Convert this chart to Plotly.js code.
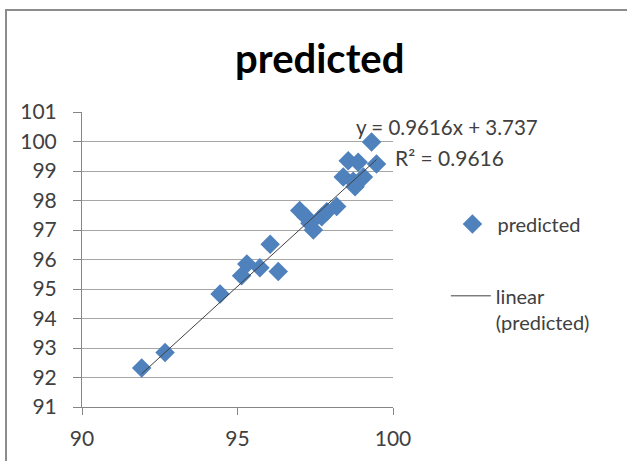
<!DOCTYPE html>
<html>
<head>
<meta charset="utf-8">
<script src="https://cdn.plot.ly/plotly-3.0.1.min.js"></script>
<style>
html,body{margin:0;padding:0;background:#fff;}
#chart{width:627px;height:461px;}
</style>
</head>
<body>
<div id="chart"></div>
<script>
// Data
const actualX = [91.92, 92.67, 94.44, 95.13, 95.30, 95.72, 96.05, 96.31, 97.00, 97.20, 97.33, 97.44, 97.71, 97.87, 98.19, 98.40, 98.56, 98.72, 98.78, 98.88, 99.05, 99.31, 99.47];
const predictedY = [92.32, 92.85, 94.83, 95.45, 95.85, 95.72, 96.52, 95.59, 97.66, 97.45, 97.23, 97.00, 97.45, 97.62, 97.80, 98.80, 99.35, 98.65, 98.47, 99.30, 98.80, 99.98, 99.24];
const trendSlope = 0.9616;
const trendIntercept = 3.737;
const trendR2 = 0.9616;
const xTicks = [90, 95, 100];
const yTicks = [91, 92, 93, 94, 95, 96, 97, 98, 99, 100, 101];

const xMin = Math.min(...actualX), xMax = Math.max(...actualX);
const trendX = [xMin, xMax];
const trendY = trendX.map(v => trendSlope * v + trendIntercept);

const FONT = 'Lato, "Open Sans", sans-serif';
const TXT = '#404040';

const traces = [
  {
    x: actualX, y: predictedY, type: 'scatter', mode: 'markers', name: 'predicted',
    marker: {symbol: 'diamond', size: 15, color: '#4F81BD'},
    legend: 'legend'
  },
  {
    x: trendX, y: trendY, type: 'scatter', mode: 'lines', name: 'linear<br>(predicted)',
    line: {color: '#404040', width: 1},
    legend: 'legend2'
  }
];

const layout = {
  width: 627, height: 461,
  margin: {l: 82, r: 234, t: 112, b: 54},
  paper_bgcolor: '#fff', plot_bgcolor: '#fff',
  font: {family: FONT, size: 20, color: TXT},
  title: {text: '<b>predicted</b>', font: {family: FONT, size: 40, color: '#000'},
          x: 0.510, xanchor: 'center', y: 0.872, yanchor: 'middle', yref: 'container'},
  xaxis: {
    range: [90, 100], tickvals: xTicks, ticktext: xTicks.map(String),
    showgrid: false, zeroline: false, showline: true, linecolor: '#868686', linewidth: 1,
    ticks: 'outside', ticklen: 7, tickcolor: '#868686', ticklabelstandoff: 6,
    tickfont: {family: FONT, size: 21, color: TXT}
  },
  yaxis: {
    range: [91, 101], tickvals: yTicks, ticktext: yTicks.map(String),
    showgrid: true, gridcolor: '#a6a6a6', gridwidth: 1, zeroline: false,
    showline: true, linecolor: '#868686', linewidth: 1,
    ticks: 'outside', ticklen: 8, tickcolor: '#868686', ticklabelstandoff: 12,
    tickfont: {family: FONT, size: 21, color: TXT}
  },
  showlegend: true,
  legend: {x: 1.175, y: 0.62, xanchor: 'left', yanchor: 'middle', itemwidth: 40,
           font: {family: FONT, size: 20, color: TXT}, bgcolor: 'rgba(0,0,0,0)'},
  legend2: {x: 1.17, y: 0.443, xanchor: 'left', yanchor: 'top', valign: 'top', itemwidth: 40,
           font: {family: FONT, size: 20, color: TXT}, bgcolor: 'rgba(0,0,0,0)'},
  annotations: [
    {xref: 'paper', yref: 'paper', x: 0.875, y: 0.949, xanchor: 'left', yanchor: 'middle',
     text: 'y = ' + trendSlope + 'x + ' + trendIntercept, showarrow: false,
     font: {family: FONT, size: 20.5, color: TXT}},
    {xref: 'paper', yref: 'paper', x: 1.0, y: 0.847, xanchor: 'left', yanchor: 'middle',
     text: 'R² = ' + trendR2, showarrow: false,
     font: {family: FONT, size: 21, color: TXT}}
  ],
  shapes: [
    {type: 'rect', xref: 'paper', yref: 'paper',
     x0: (6 - 82) / 311, x1: (640 - 82) / 311, y0: (407 - 480) / 295, y1: (407 - 10) / 295,
     line: {color: '#8c8c8c', width: 2}, fillcolor: 'rgba(0,0,0,0)', layer: 'below'}
  ]
};

Plotly.newPlot('chart', traces, layout, {displayModeBar: false, staticPlot: true});
</script>
</body>
</html>
